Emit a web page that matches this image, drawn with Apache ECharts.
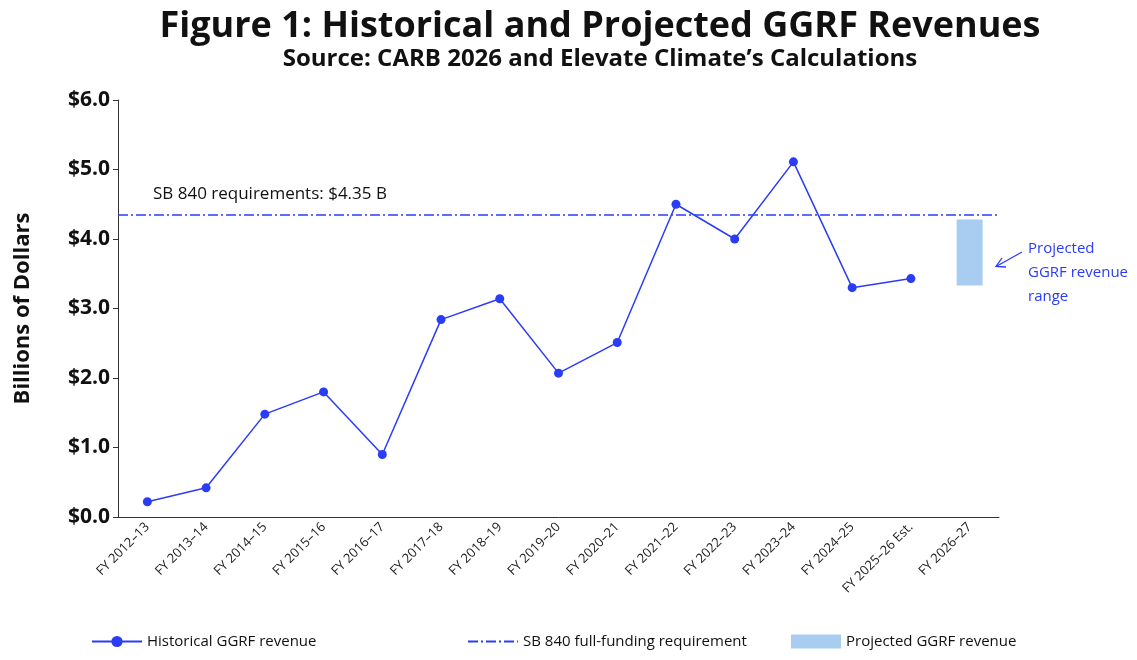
<!DOCTYPE html>
<html><head><meta charset="utf-8">
<script src="https://cdn.jsdelivr.net/npm/echarts@6/dist/echarts.min.js"></script>
<style>body{margin:0;background:#fff}#c{width:1137px;height:660px}</style>
</head><body><div id="c"></div>
<script>
const categories = ['FY 2012–13','FY 2013–14','FY 2014–15','FY 2015–16','FY 2016–17','FY 2017–18','FY 2018–19','FY 2019–20','FY 2020–21','FY 2021–22','FY 2022–23','FY 2023–24','FY 2024–25','FY 2025–26 Est.','FY 2026–27'];
const historical = [0.22, 0.42, 1.48, 1.80, 0.90, 2.84, 3.14, 2.07, 2.51, 4.50, 4.00, 5.11, 3.30, 3.43, null];
const projLow = [null,null,null,null,null,null,null,null,null,null,null,null,null,null,3.33];
const projSpan = [null,null,null,null,null,null,null,null,null,null,null,null,null,null,0.95];
const requirement = 4.35;

const blue = '#2a3cf5';
const legendBase = {bottom: 6, itemWidth: 50, itemHeight: 14, itemGap: 10, textStyle: {fontSize: 15, color: '#111'}};
const chart = echarts.init(document.getElementById('c'));
chart.setOption({
  animation: false,
  textStyle: {fontFamily: 'Open Sans'},
  title: {
    text: 'Figure 1: Historical and Projected GGRF Revenues',
    subtext: 'Source: CARB 2026 and Elevate Climate’s Calculations',
    left: 595, textAlign: 'center', top: 4, itemGap: 2,
    textStyle: {fontSize: 36, fontWeight: 'bold', color: '#111'},
    subtextStyle: {fontSize: 24, fontWeight: 'bold', color: '#111'}
  },
  grid: {left: 118, right: 138, top: 100, bottom: 143},
  legend: [
    Object.assign({left: 86, data: [{name: 'Historical GGRF revenue'}]}, legendBase),
    Object.assign({left: 462, data: [{name: 'SB 840 full-funding requirement', itemStyle: {color: 'transparent', borderWidth: 0}}]}, legendBase),
    Object.assign({left: 786, data: [{name: 'Projected GGRF revenue', icon: 'rect', itemStyle: {color: '#a8cdf0'}}]}, legendBase)
  ],
  xAxis: {
    type: 'category', data: categories,
    axisLine: {lineStyle: {color: '#333'}},
    axisTick: {alignWithLabel: true, lineStyle: {color: '#333'}},
    axisLabel: {rotate: 45, fontSize: 13, color: '#222', interval: 0}
  },
  yAxis: {
    type: 'value', min: 0, max: 6, interval: 1,
    name: 'Billions of Dollars', nameLocation: 'middle', nameGap: 84,
    nameTextStyle: {fontSize: 22, fontWeight: 'bold', color: '#111'},
    axisLine: {show: true, lineStyle: {color: '#333'}},
    axisTick: {show: true, lineStyle: {color: '#333'}},
    axisLabel: {fontSize: 21, fontWeight: 'bold', color: '#111', formatter: v => '$' + v.toFixed(1)},
    splitLine: {show: false}
  },
  series: [
    {
      name: 'Historical GGRF revenue', type: 'line', data: historical,
      symbol: 'circle', symbolSize: 9,
      lineStyle: {color: blue, width: 1.5}, itemStyle: {color: blue}
    },
    {
      name: 'SB 840 full-funding requirement', type: 'line', data: [],
      symbol: 'none', itemStyle: {color: blue},
      lineStyle: {color: blue, width: 1.5, type: [10, 3, 2, 3]},
      markLine: {
        symbol: 'none', silent: true,
        lineStyle: {color: blue, width: 1.5, type: [10, 3, 2, 3]},
        label: {show: false},
        data: [{yAxis: requirement}]
      }
    },
    {name: 'base', type: 'bar', stack: 'p', data: projLow, barWidth: 26, itemStyle: {color: 'transparent'}},
    {name: 'Projected GGRF revenue', type: 'bar', stack: 'p', data: projSpan, barWidth: 26, itemStyle: {color: '#a8cdf0'}}
  ],
  graphic: [
    {type: 'text', left: 153, top: 186, style: {text: 'SB 840 requirements: $4.35 B', fontSize: 17, fill: '#111', fontFamily: 'Open Sans'}},
    {type: 'text', left: 1028, top: 237, style: {text: 'Projected\nGGRF revenue\nrange', fontSize: 15, lineHeight: 24, fill: blue, fontFamily: 'Open Sans'}},
    {type: 'line', shape: {x1: 1022, y1: 252, x2: 997, y2: 266}, style: {stroke: blue, lineWidth: 1.3}},
    {type: 'polyline', shape: {points: [[1002, 258], [996, 266.5], [1006, 267]]}, style: {stroke: blue, fill: null, lineWidth: 1.3}}
  ]
});
</script></body></html>
